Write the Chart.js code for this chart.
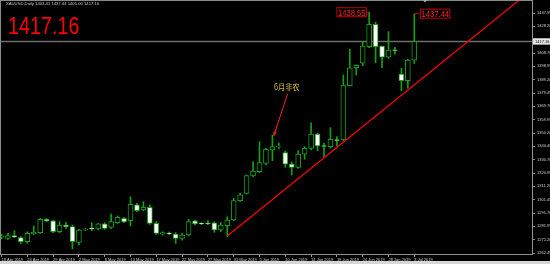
<!DOCTYPE html>
<html><head><meta charset="utf-8">
<script src="https://cdn.jsdelivr.net/npm/chart.js@4/dist/chart.umd.min.js"></script>
<style>html,body{margin:0;padding:0;background:#000;overflow:hidden}canvas{display:block}</style>
</head><body>
<canvas id="c" width="550" height="264"></canvas>
<script>
const symbolTitle = 'XAUUSD,Daily';
const opens  = [1274.0,1273.2,1275.1,1273.7,1270.7,1276.6,1277.3,1287.1,1285.9,1278.0,1282.9,1281.7,1270.2,1279.3,1280.5,1280.0,1283.7,1281.2,1284.6,1287.8,1286.1,1297.6,1293.9,1295.8,1284.1,1276.3,1277.1,1276.3,1273.2,1275.6,1285.9,1284.1,1284.1,1284.6,1279.3,1282.4,1286.6,1300.7,1306.1,1318.8,1321.9,1328.0,1337.8,1340.0,1335.8,1327.5,1325.1,1334.8,1339.0,1349.5,1341.0,1340.2,1345.3,1345.1,1384.8,1398.0,1401.2,1413.3,1429.7,1413.8,1405.6,1411.0,1393.3,1388.4,1403.41];
const highs  = [1276.0,1276.8,1278.8,1274.4,1278.0,1282.2,1287.8,1287.6,1286.6,1285.4,1284.9,1282.9,1279.8,1280.5,1284.6,1284.1,1284.6,1291.0,1289.5,1288.5,1303.6,1298.8,1300.0,1297.6,1285.4,1278.0,1277.8,1277.3,1276.8,1287.1,1286.6,1284.6,1286.1,1285.4,1284.6,1289.0,1302.5,1306.1,1319.5,1329.2,1343.8,1339.0,1348.7,1342.9,1337.0,1329.2,1337.3,1340.2,1357.7,1350.0,1342.9,1354.1,1347.5,1392.6,1411.4,1400.0,1417.0,1438.55,1431.2,1413.8,1424.3,1412.9,1397.5,1404.1,1437.44];
const lows   = [1272.8,1272.4,1273.7,1269.5,1269.5,1276.1,1276.8,1285.3,1277.3,1277.3,1280.5,1265.4,1268.3,1278.8,1278.8,1279.3,1279.8,1280.5,1284.1,1284.6,1282.2,1292.7,1293.2,1283.4,1276.1,1275.6,1275.9,1269.5,1271.9,1274.9,1282.9,1283.2,1283.2,1277.6,1278.0,1274.4,1286.1,1300.2,1305.6,1318.3,1321.2,1326.8,1330.0,1338.5,1325.1,1319.5,1324.4,1331.0,1337.8,1337.3,1332.4,1339.0,1340.7,1344.4,1384.6,1392.6,1399.4,1412.6,1401.6,1398.0,1404.8,1407.8,1381.1,1382.9,1401.00];
const closes = [1275.0,1275.1,1274.2,1270.7,1276.8,1277.6,1287.1,1285.9,1278.0,1282.9,1281.7,1270.7,1279.3,1279.8,1280.0,1283.7,1280.5,1285.4,1288.5,1285.1,1298.0,1293.4,1295.8,1284.1,1276.8,1277.3,1276.6,1273.2,1275.6,1285.4,1283.7,1283.7,1283.9,1279.3,1282.9,1286.6,1300.7,1304.9,1319.0,1322.4,1328.5,1338.3,1340.2,1340.4,1327.5,1325.1,1334.8,1339.0,1349.5,1340.7,1340.4,1345.6,1344.8,1385.3,1397.9,1399.6,1413.8,1429.7,1413.3,1405.6,1410.9,1410.5,1388.4,1403.6,1417.16];
const xTickIndex  = [0,4,8,12,16,20,24,28,32,36,40,44,48,52,56,60,64];
const xTickLabels = ['18 Apr 2019','24 Apr 2019','29 Apr 2019','2 May 2019','8 May 2019','13 May 2019','17 May 2019','22 May 2019','27 May 2019','31 May 2019','5 Jun 2019','10 Jun 2019','14 Jun 2019','19 Jun 2019','24 Jun 2019','28 Jun 2019','3 Jul 2019'];
const yTickValues = [1262.45,1272.20,1281.95,1291.70,1301.45,1311.20,1320.95,1330.70,1340.45,1350.20,1359.95,1369.70,1379.45,1389.20,1398.95,1408.70,1428.20,1437.95];
const trendX = [35, 81];
const trendY = [1274.9, 1450.2];
const markIndex = [57, 64];
const noteIndex = 42;
const noteText = '6月非农';

const GREEN = '#14a014';
const FONT = '"Liberation Sans", Arial, sans-serif';
Chart.defaults.font.family = FONT;

function txt(c, s, x, y, size, sx, color, family) {
  c.save();
  c.font = size + 'px ' + (family || FONT);
  c.fillStyle = color;
  c.textAlign = 'left';
  c.textBaseline = 'alphabetic';
  c.translate(x, y); c.scale(sx, 1);
  c.fillText(s, 0, 0);
  c.restore();
}

const overlay = {
  id: 'overlay',
  beforeDraw(chart) {
    const c = chart.ctx; c.save(); c.fillStyle = '#000'; c.fillRect(0, 0, chart.width, chart.height); c.restore();
  },
  beforeDatasetsDraw(chart) {
    const c = chart.ctx, a = chart.chartArea, y = chart.scales.y;
    const py = y.getPixelForValue(closes[closes.length - 1]);
    c.save(); c.strokeStyle = '#6c6c6c'; c.lineWidth = 1.6;
    c.beginPath(); c.moveTo(a.left, py); c.lineTo(a.right, py); c.stroke(); c.restore();
  },
  afterDraw(chart) {
    const c = chart.ctx, a = chart.chartArea, x = chart.scales.x, y = chart.scales.y;
    const last = closes.length - 1;
    c.save();
    c.strokeStyle = '#8a8a8a'; c.lineWidth = 1;
    c.beginPath(); c.moveTo(0, 0.5); c.lineTo(a.right, 0.5); c.moveTo(0.5, 0); c.lineTo(0.5, a.bottom); c.stroke();
    // shift marker
    c.fillStyle = '#b0b0b0';
    c.beginPath(); c.moveTo(423, 0); c.lineTo(427, 0); c.lineTo(425, 2.5); c.closePath(); c.fill();
    // current price box on axis
    const py = y.getPixelForValue(closes[last]);
    c.fillStyle = '#e4e4e4'; c.fillRect(a.right + 1, py - 3.2, chart.width - a.right - 1, 6.4);
    txt(c, closes[last].toFixed(2), a.right + 3, py + 1.5, 4, 1, '#000');
    // header
    txt(c, symbolTitle + ' ' + [opens[last], highs[last], lows[last], closes[last]].map(v => v.toFixed(2)).join(' '), 6, 4.6, 4.2, 1, '#c8c8c8');
    txt(c, closes[last].toFixed(2), 8, 34, 23.5, 0.84, '#ff0000');
    // high marks
    markIndex.forEach((mi, k) => {
      const ax = x.getPixelForValue(mi), ay = y.getPixelForValue(highs[mi]);
      const w = 30.5, h = 10;
      const bx = k === 0 ? ax - 2.2 - w : ax + 5.6;
      c.strokeStyle = '#c00000'; c.lineWidth = 1;
      c.beginPath();
      if (k === 0) { c.moveTo(bx + w, ay); c.lineTo(ax, ay); } else { c.moveTo(ax, ay); c.lineTo(bx, ay); }
      c.stroke();
      c.fillStyle = '#000'; c.fillRect(bx, ay - h / 2, w, h);
      c.strokeRect(bx + 0.5, ay - h / 2 + 0.5, w - 1, h - 1);
      txt(c, highs[mi].toFixed(2), bx + 1.6, ay + 3.4, 9.2, 0.83, '#ff2020');
    });
    // note + arrow
    const nx = x.getPixelForValue(noteIndex), ny = y.getPixelForValue(highs[noteIndex]);
    txt(c, noteText, nx + 1.5, ny - 45.5, 8.5, 0.85, '#d4bf30', '"Noto Sans CJK SC", sans-serif');
    const x1 = nx + 15.3, y1 = ny - 41.5, x2 = nx + 1.3, y2 = ny + 1;
    c.strokeStyle = '#ff2020'; c.fillStyle = '#ff2020'; c.lineWidth = 1;
    c.beginPath(); c.moveTo(x1, y1); c.lineTo(x2, y2); c.stroke();
    const ang = Math.atan2(y2 - y1, x2 - x1), L = 4.5, W = 1.8;
    c.beginPath(); c.moveTo(x2, y2);
    c.lineTo(x2 - L * Math.cos(ang) + W * Math.sin(ang), y2 - L * Math.sin(ang) - W * Math.cos(ang));
    c.lineTo(x2 - L * Math.cos(ang) - W * Math.sin(ang), y2 - L * Math.sin(ang) + W * Math.cos(ang));
    c.closePath(); c.fill();
    // bottom strip
    c.fillStyle = '#d6d6d6'; c.fillRect(0, 261, chart.width, 3);
    c.restore();
  }
};

const idx = opens.map((_, i) => i);
const bodies = idx.map(i => ({ x: i, y: [opens[i], closes[i]] }));
const wicks = idx.map(i => ({ x: i, y: [lows[i], highs[i]] }));
const bodyFill = idx.map(i => closes[i] >= opens[i] ? '#000000' : '#ffffff');

new Chart(document.getElementById('c'), {
  type: 'bar',
  data: {
    datasets: [
      { type: 'line', data: trendX.map((v, i) => ({ x: v, y: trendY[i] })), borderColor: '#ff0000', borderWidth: 1.2, pointRadius: 0, fill: false, tension: 0 },
      { type: 'bar', data: bodies, backgroundColor: bodyFill, borderColor: GREEN, borderWidth: 1, borderSkipped: false, barThickness: 5, grouped: false },
      { type: 'bar', data: wicks, backgroundColor: GREEN, borderWidth: 0, barThickness: 1, grouped: false }
    ]
  },
  options: {
    responsive: false, animation: false, events: [],
    layout: { padding: 0 },
    plugins: { legend: { display: false }, tooltip: { enabled: false } },
    scales: {
      x: {
        type: 'linear', min: -0.2326, max: 82.25, offset: false,
        afterBuildTicks: s => { s.ticks = xTickIndex.map(v => ({ value: v })); },
        afterFit: s => { s.height = 10; s.paddingLeft = 0; s.paddingRight = 0; },
        ticks: { autoSkip: false, maxRotation: 0, minRotation: 0, align: 'start', padding: 0, font: { size: 4 }, color: '#d0d0d0',
          callback: v => { const k = xTickIndex.indexOf(v); return k >= 0 ? xTickLabels[k] : ''; } },
        grid: { drawOnChartArea: false, drawTicks: true, tickLength: 3, color: '#909090', offset: false },
        border: { color: '#909090', width: 1 }
      },
      y: {
        type: 'linear', position: 'right', min: 1261.72, max: 1447.46,
        afterBuildTicks: s => { s.ticks = yTickValues.map(v => ({ value: v })); },
        afterFit: s => { s.width = 18; s.paddingTop = 0; s.paddingBottom = 0; },
        ticks: { padding: 2, font: { size: 4 }, color: '#d0d0d0', callback: v => Number(v).toFixed(2) },
        grid: { drawOnChartArea: false, drawTicks: true, tickLength: 3, color: '#909090' },
        border: { color: '#909090', width: 1 }
      }
    }
  },
  plugins: [overlay]
});
</script>
</body></html>
